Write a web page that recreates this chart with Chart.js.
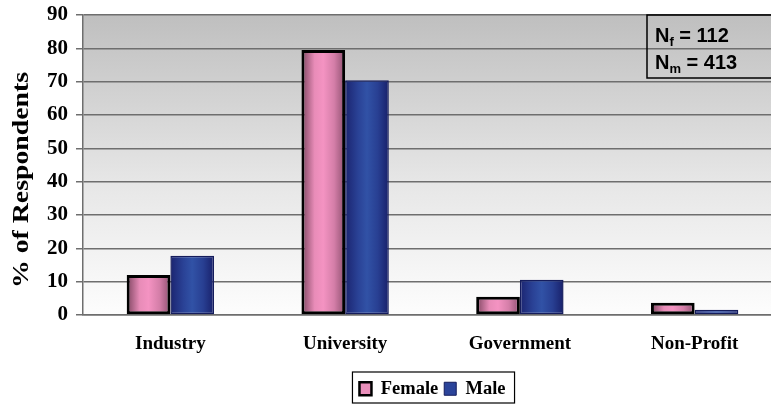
<!DOCTYPE html>
<html>
<head>
<meta charset="utf-8">
<script src="https://cdn.jsdelivr.net/npm/chart.js@4"></script>
<style>
  html, body { margin: 0; padding: 0; background: #fff; overflow: hidden; }
  #wrap { width: 800px; height: 404px; }
</style>
</head>
<body>
<div id="wrap"><canvas id="respondents-chart"></canvas></div>
<script>
var categories = ["Industry", "University", "Government", "Non-Profit"];
var femaleValues = [12, 79.5, 5.5, 3.7];
var maleValues = [17.8, 70.4, 10.6, 1.6];
var yMax = 90;
var yStep = 10;
var nFemale = 112;
var nMale = 413;

var pinkStops = ["#7e4560", "#e88cb8", "#f493c2", "#d47ea8", "#8f5070"];
var blueStops = ["#1b2470", "#2a4296", "#3152a6", "#283f92", "#18206a"];

// horizontal shading for each bar, built from the category scale
function barShade(stops, side) {
  return function(ctx) {
    let chart = ctx.chart;
    let xs = chart.scales.x;
    if (!xs || !chart.chartArea || ctx.dataIndex === undefined) return stops[2];
    let center = xs.getPixelForValue(ctx.dataIndex);
    let groupW = (chart.chartArea.width / categories.length) * 0.5;
    let left = side === 0 ? center - groupW / 2 : center;
    let g = chart.ctx.createLinearGradient(left, 0, left + groupW / 2, 0);
    g.addColorStop(0, stops[0]);
    g.addColorStop(0.3, stops[1]);
    g.addColorStop(0.5, stops[2]);
    g.addColorStop(0.75, stops[3]);
    g.addColorStop(1, stops[4]);
    return g;
  };
}

let plotBackground = {
  id: "plotBackground",
  beforeDraw(chart) {
    let a = chart.chartArea, c = chart.ctx;
    let g = c.createLinearGradient(0, a.top, 0, a.bottom);
    g.addColorStop(0, "#bfbfbf");
    g.addColorStop(0.55, "#e6e6e6");
    g.addColorStop(1, "#fdfdfd");
    c.save();
    c.fillStyle = g;
    c.fillRect(a.left, a.top, a.width, a.height);
    c.restore();
  }
};

let extras = {
  id: "extras",
  afterDraw(chart) {
    let c = chart.ctx, a = chart.chartArea;
    c.save();
    // y axis title, stretched along its length
    c.translate(22, 180);
    c.rotate(-Math.PI / 2);
    c.font = "bold 24px 'Liberation Serif'";
    c.textAlign = "center";
    c.textBaseline = "middle";
    c.fillStyle = "#000";
    let t = "% of Respondents";
    let w = c.measureText(t).width;
    c.scale(216 / w, 1);
    c.fillText(t, 0, 0);
    c.restore();

    // sample size box
    c.save();
    let bx = a.right - 135, by = a.top;
    c.strokeStyle = "#000";
    c.lineWidth = 1.5;
    c.strokeRect(bx, by, 200, 63);
    c.fillStyle = "#000";
    c.textBaseline = "alphabetic";
    let rows = [["f", nFemale, 27], ["m", nMale, 53.5]];
    rows.forEach(function(r) {
      let x = bx + 8;
      c.font = "bold 20px 'Liberation Sans'";
      c.fillText("N", x, by + r[2]);
      x += c.measureText("N").width;
      c.font = "bold 13px 'Liberation Sans'";
      c.fillText(r[0], x, by + r[2] + 4);
      x += c.measureText(r[0]).width;
      c.font = "bold 20px 'Liberation Sans'";
      c.fillText(" = " + r[1], x, by + r[2]);
    });
    c.restore();

    // frame round the legend
    let hb = chart.legend.legendHitBoxes;
    if (hb && hb.length) {
      let l = Math.min.apply(null, hb.map(h => h.left));
      let r = Math.max.apply(null, hb.map(h => h.left + h.width));
      let tp = Math.min.apply(null, hb.map(h => h.top));
      let bt = Math.max.apply(null, hb.map(h => h.top + h.height));
      c.save();
      c.strokeStyle = "#000";
      c.lineWidth = 1.2;
      c.strokeRect(l - 7, tp - 7.5, (r - l) + 16, (bt - tp) + 12.5);
      c.restore();
    }
  }
};

let respondentsChart = new Chart("respondents-chart", {
  type: "bar",
  data: {
    labels: categories,
    datasets: [{
      label: "Female",
      data: femaleValues,
      backgroundColor: barShade(pinkStops, 0),
      borderColor: "#000",
      borderWidth: 3,
      borderSkipped: false
    }, {
      label: "Male",
      data: maleValues,
      backgroundColor: barShade(blueStops, 1),
      borderColor: "#141c5c",
      borderWidth: 1.5,
      borderSkipped: false
    }]
  },
  options: {
    responsive: true,
    maintainAspectRatio: false,
    animation: false,
    datasets: {
      bar: { categoryPercentage: 0.5, barPercentage: 1 }
    },
    layout: { padding: { left: 0, right: 18, top: 15, bottom: -4 } },
    plugins: {
      title: { display: false },
      tooltip: { enabled: false },
      legend: {
        position: "bottom",
        fullSize: false,
        labels: {
          color: "#000",
          font: { family: "'Liberation Serif'", size: 18.5, weight: "bold" },
          boxWidth: 12,
          boxHeight: 13,
          padding: 6,
          generateLabels: function(chart) {
            let items = Chart.defaults.plugins.legend.labels.generateLabels(chart);
            items[0].fillStyle = "#ea8fbb";
            items[0].strokeStyle = "#000";
            items[0].lineWidth = 2.5;
            items[1].fillStyle = "#2b449a";
            items[1].strokeStyle = "#141c5c";
            items[1].lineWidth = 1;
            return items;
          }
        }
      }
    },
    scales: {
      x: {
        grid: { display: false, drawTicks: false },
        border: { display: true, color: "#6e6e6e", width: 1.5 },
        ticks: {
          color: "#000",
          padding: 18,
          font: { family: "'Liberation Serif'", size: 19, weight: "bold" }
        },
        afterFit: function(s) { s.height = 58.5; }
      },
      y: {
        min: 0,
        max: yMax,
        ticks: {
          stepSize: yStep,
          color: "#000",
          padding: 8,
          font: { family: "'Liberation Serif'", size: 21, weight: "bold", lineHeight: 0.5 }
        },
        grid: { color: "#6e6e6e", lineWidth: 1.5, tickLength: 7, drawTicks: true },
        border: { display: true, color: "#6e6e6e", width: 1.5 },
        afterFit: function(s) { s.width = 83; }
      }
    }
  },
  plugins: [plotBackground, extras]
});
</script>
</body>
</html>
